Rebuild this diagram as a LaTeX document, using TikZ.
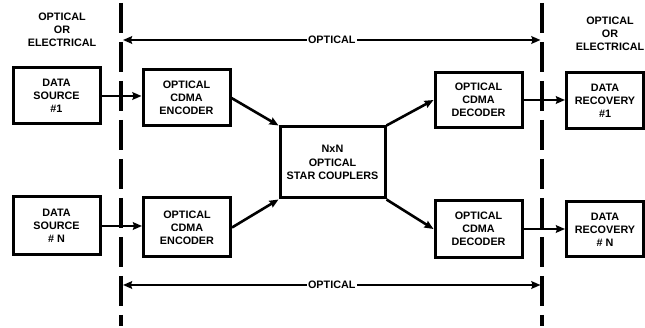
\documentclass[tikz,border=0pt]{standalone}
\usepackage{fontspec}
\setmainfont{Liberation Sans}
\usetikzlibrary{arrows.meta}
\begin{document}
\begin{tikzpicture}[x=1pt,y=-1pt,
  lbl/.style={font=\bfseries\fontsize{10.8}{13.2}\selectfont, align=center},
  blk/.style={lbl, draw, line width=3pt, inner sep=0pt, minimum width=87pt, minimum height=56pt},
  flow/.style={line width=2.6pt, -{Stealth[length=9pt,width=7.5pt,inset=1pt]}},
  span/.style={line width=2.6pt, {Stealth[length=9pt,width=7.5pt,inset=1pt]}-{Stealth[length=9pt,width=7.5pt,inset=1pt]}},
  border/.style={line width=3.2pt, dash pattern=on 30pt off 9pt}]
\useasboundingbox (0,0) rectangle (645,328);

% domain labels
\node[lbl] (dl) at (62,30) {OPTICAL\\OR\\ELECTRICAL};
\node[lbl] (dr) at (610,34) {OPTICAL\\OR\\ELECTRICAL};

% boundaries between electrical and optical domains
\coordinate (lt) at (121,3);  \coordinate (lb) at (121,326);
\coordinate (rt) at (542,3);  \coordinate (rb) at (542,326);
\draw[border] (lt) -- (lb);
\draw[border] (rt) -- (rb);

% blocks
\node[blk] (src1) at (56.5,96) {DATA\\SOURCE\\\#1};
\node[blk, minimum height=58pt] (srcN) at (56.5,226) {DATA\\SOURCE\\\# N};
\node[blk] (enc1) at (186.5,98) {OPTICAL\\CDMA\\ENCODER};
\node[blk, minimum height=59pt] (encN) at (187,227.5) {OPTICAL\\CDMA\\ENCODER};
\node[blk, minimum width=105pt, minimum height=71pt] (star) at (332.5,162.5) {NxN\\OPTICAL\\STAR COUPLERS};
\node[blk, minimum height=55pt] (dec1) at (478.5,100) {OPTICAL\\CDMA\\DECODER};
\node[blk, minimum height=57pt] (decN) at (478.5,229) {OPTICAL\\CDMA\\DECODER};
\node[blk, minimum width=77pt] (rec1) at (605,101) {DATA\\RECOVERY\\\#1};
\node[blk, minimum width=77pt, minimum height=55pt] (recN) at (605,229.5) {DATA\\RECOVERY\\\# N};

% signal flow
\draw[flow] (src1.east) -- (src1.east -| enc1.west);
\draw[flow] (srcN.east) -- (srcN.east -| encN.west);
\draw[flow] (enc1.east) -- (star.north west);
\draw[flow] (encN.east) -- (star.south west);
\draw[flow] (star.north east) -- (dec1.west);
\draw[flow] (star.south east) -- (decN.west);
\draw[flow] (dec1.east) -- (dec1.east -| rec1.west);
\draw[flow] (decN.east) -- (decN.east -| recN.west);

% optical span markers
\coordinate (ta) at (123,40);  \coordinate (tb) at (540.5,40);
\coordinate (ba) at (123,285); \coordinate (bb) at (540.5,285);
\draw[span] (ta) -- (tb) node[midway, lbl, fill=white, inner sep=1.5pt] (to) {OPTICAL};
\draw[span] (ba) -- (bb) node[midway, lbl, fill=white, inner sep=1.5pt] (bo) {OPTICAL};
\end{tikzpicture}
\end{document}
